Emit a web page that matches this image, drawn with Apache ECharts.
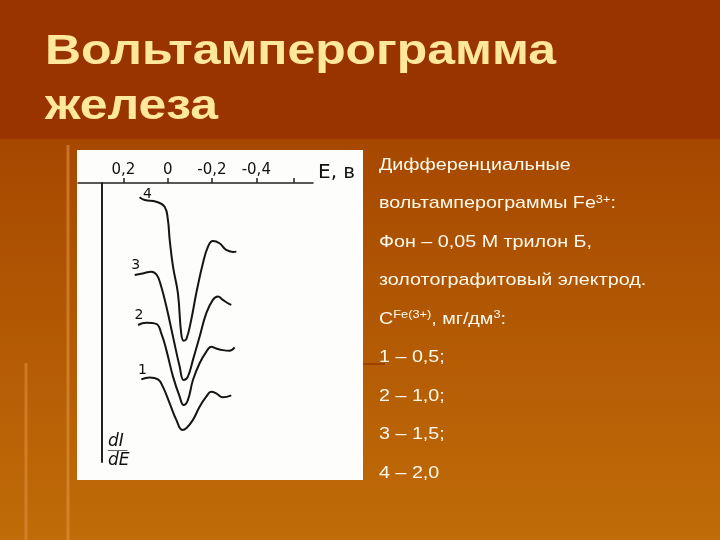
<!DOCTYPE html>
<html><head><meta charset="utf-8">
<script src="https://cdn.jsdelivr.net/npm/echarts@6/dist/echarts.min.js"></script>
<style>html,body{margin:0;padding:0;background:#993300}#c{width:720px;height:540px}</style>
</head><body><div id="c"></div>
<script>
// ---- data (E in V, dI/dE in arbitrary units, downward positive) ----
const curveNames = ['1', '2', '3', '4'];
const curve1E = [0.119, 0.082, 0.044, 0.022, -0.009, -0.039, -0.066, -0.084, -0.114, -0.144, -0.174, -0.197, -0.219, -0.249, -0.287];
const curve1Y = [70.4, 69.7, 70.4, 73.0, 79.0, 84.9, 88.5, 87.9, 84.9, 80.2, 76.6, 74.8, 75.4, 76.8, 76.1];
const curve2E = [0.134, 0.097, 0.052, 0.029, 0.006, -0.024, -0.054, -0.072, -0.091, -0.114, -0.144, -0.174, -0.197, -0.219, -0.249, -0.279, -0.302];
const curve2Y = [50.9, 50.1, 50.5, 53.9, 59.9, 69.4, 76.6, 79.6, 77.8, 70.6, 64.6, 60.5, 58.7, 59.3, 59.9, 60.1, 58.9];
const curve3E = [0.149, 0.112, 0.074, 0.049, 0.029, 0.006, -0.024, -0.054, -0.072, -0.091, -0.114, -0.144, -0.174, -0.204, -0.227, -0.249, -0.272, -0.287];
const curve3Y = [33.0, 32.4, 31.8, 33.0, 37.2, 44.3, 55.1, 65.8, 70.6, 69.4, 63.4, 55.1, 46.7, 41.9, 40.7, 41.9, 43.1, 43.7];
const curve4E = [0.127, 0.104, 0.052, 0.014, -0.001, -0.009, -0.024, -0.046, -0.061, -0.072, -0.084, -0.106, -0.129, -0.159, -0.182, -0.204, -0.234, -0.264, -0.295, -0.310];
const curve4Y = [5.1, 6.1, 6.7, 8.5, 13.3, 20.4, 30.0, 39.5, 53.9, 56.5, 56.0, 49.1, 39.5, 28.8, 22.8, 20.8, 21.6, 24.0, 24.7, 24.6];
const labeledTicks = [0.2, 0, -0.2, -0.4];
const allTicks = [0.2, 0, -0.2, -0.4, -0.57];
const axisEMax = 0.405, axisEMin = -0.656;

const titleLines = ['Вольтамперограмма', 'железа'];
const textLines = [
  'Дифференциальные',
  'вольтамперограммы Fe{sup|3+}:',
  'Фон – 0,05 М трилон Б,',
  'золотографитовый электрод.',
  'C{sup|Fe(3+)}, мг/дм{sup|3}:',
  '1 – 0,5;',
  '2 – 1,0;',
  '3 – 1,5;',
  '4 – 2,0'
];

const curvesE = [curve1E, curve2E, curve3E, curve4E];
const curvesY = [curve1Y, curve2Y, curve3Y, curve4Y];

function buildSeries() {
  return curvesE.map((es, i) => {
    const data = es.map((e, j) => {
      const pt = { value: [e, curvesY[i][j]] };
      if (j === 0) {
        pt.label = {
          show: true, position: 'top', distance: 2,
          offset: i === 3 ? [8, 7] : [1, 0],
          formatter: curveNames[i],
          fontFamily: 'DejaVu Sans', fontSize: 14, color: '#111'
        };
      }
      return pt;
    });
    return {
      type: 'line', name: curveNames[i], data: data, smooth: 0.45,
      symbol: 'circle', symbolSize: 1, showSymbol: true,
      itemStyle: { color: 'rgba(0,0,0,0)' },
      lineStyle: { color: '#151515', width: 2 },
      z: 5, animation: false
    };
  });
}

function fmt(v) {
  if (v === 0) return '0';
  return (v < 0 ? '-' : '') + Math.abs(v).toFixed(1).replace('.', ',');
}

const stretch = 1.16; // the slide image is horizontally stretched

const chart = echarts.init(document.getElementById('c'), null, { renderer: 'canvas' });
chart.setOption({
  animation: false,
  backgroundColor: {
    type: 'linear', x: 0, y: 0, x2: 0, y2: 1,
    colorStops: [
      { offset: 0, color: '#993300' }, { offset: 0.255, color: '#993300' },
      { offset: 0.26, color: '#A64800' }, { offset: 1, color: '#C06C08' }
    ]
  },
  graphic: [
    { type: 'rect', shape: { x: 77, y: 150, width: 286, height: 330 }, style: { fill: '#FDFDFB' }, z: -10 },
    { type: 'line', shape: { x1: 68, y1: 145, x2: 68, y2: 540 }, style: { stroke: 'rgba(230,150,70,0.55)', lineWidth: 3 }, z: -11 },
    { type: 'line', shape: { x1: 26, y1: 363, x2: 26, y2: 540 }, style: { stroke: 'rgba(230,150,70,0.5)', lineWidth: 3 }, z: -11 },
    { type: 'line', shape: { x1: 360, y1: 364, x2: 385, y2: 364 }, style: { stroke: 'rgba(150,60,0,0.8)', lineWidth: 2 }, z: -11 },
    {
      type: 'text', x: 45, y: 25, scaleX: stretch, z: 10,
      style: {
        text: titleLines.join('\n'), fill: '#FFE79C',
        font: 'bold 43px "Liberation Sans"', lineHeight: 55,
        align: 'left', verticalAlign: 'top',
        shadowColor: 'rgba(50,15,0,0.85)', shadowOffsetX: 2, shadowOffsetY: 2, shadowBlur: 1
      }
    },
    {
      type: 'text', x: 379, y: 146, scaleX: stretch, z: 10,
      style: {
        text: textLines.join('\n'), fill: '#FFFAEC',
        font: '17px "Liberation Sans"', lineHeight: 38.5,
        align: 'left', verticalAlign: 'top',
        rich: {
          sup: { font: '11px "Liberation Sans"', fill: '#FFFAEC', padding: [0, 0, 8, 0] }
        }
      }
    }
  ],
  grid: { left: 78, right: 407, top: 183, bottom: 78 },
  xAxis: {
    type: 'value', position: 'top', inverse: true, min: axisEMin, max: axisEMax,
    name: 'E, в', nameLocation: 'start', nameGap: 5,
    nameTextStyle: { fontFamily: 'DejaVu Sans', fontSize: 20, color: '#111', verticalAlign: 'bottom' },
    axisLine: { show: true, onZero: false, lineStyle: { color: '#222', width: 1.5 } },
    axisTick: { show: true, customValues: allTicks, length: 5, lineStyle: { color: '#222', width: 1.5 } },
    axisLabel: { show: true, customValues: labeledTicks, formatter: fmt, margin: 5, fontFamily: 'DejaVu Sans', fontSize: 15, color: '#111' },
    splitLine: { show: false }
  },
  yAxis: {
    type: 'value', inverse: true, min: 0, max: 100, offset: -24,
    name: '{n|dI}\n{b|────}\n{n|dE}', nameLocation: 'end', nameGap: -28,
    nameTextStyle: {
      align: 'left', padding: [0, 0, 0, 6],
      rich: {
        n: { fontFamily: 'DejaVu Sans', fontStyle: 'italic', fontSize: 17, color: '#111', lineHeight: 15 },
        b: { fontFamily: 'DejaVu Sans', fontSize: 8, color: '#111', lineHeight: 4 }
      }
    },
    axisLine: { show: true, onZero: false, lineStyle: { color: '#222', width: 2 } },
    axisTick: { show: false }, axisLabel: { show: false }, splitLine: { show: false }
  },
  series: buildSeries()
});
</script>
</body></html>
